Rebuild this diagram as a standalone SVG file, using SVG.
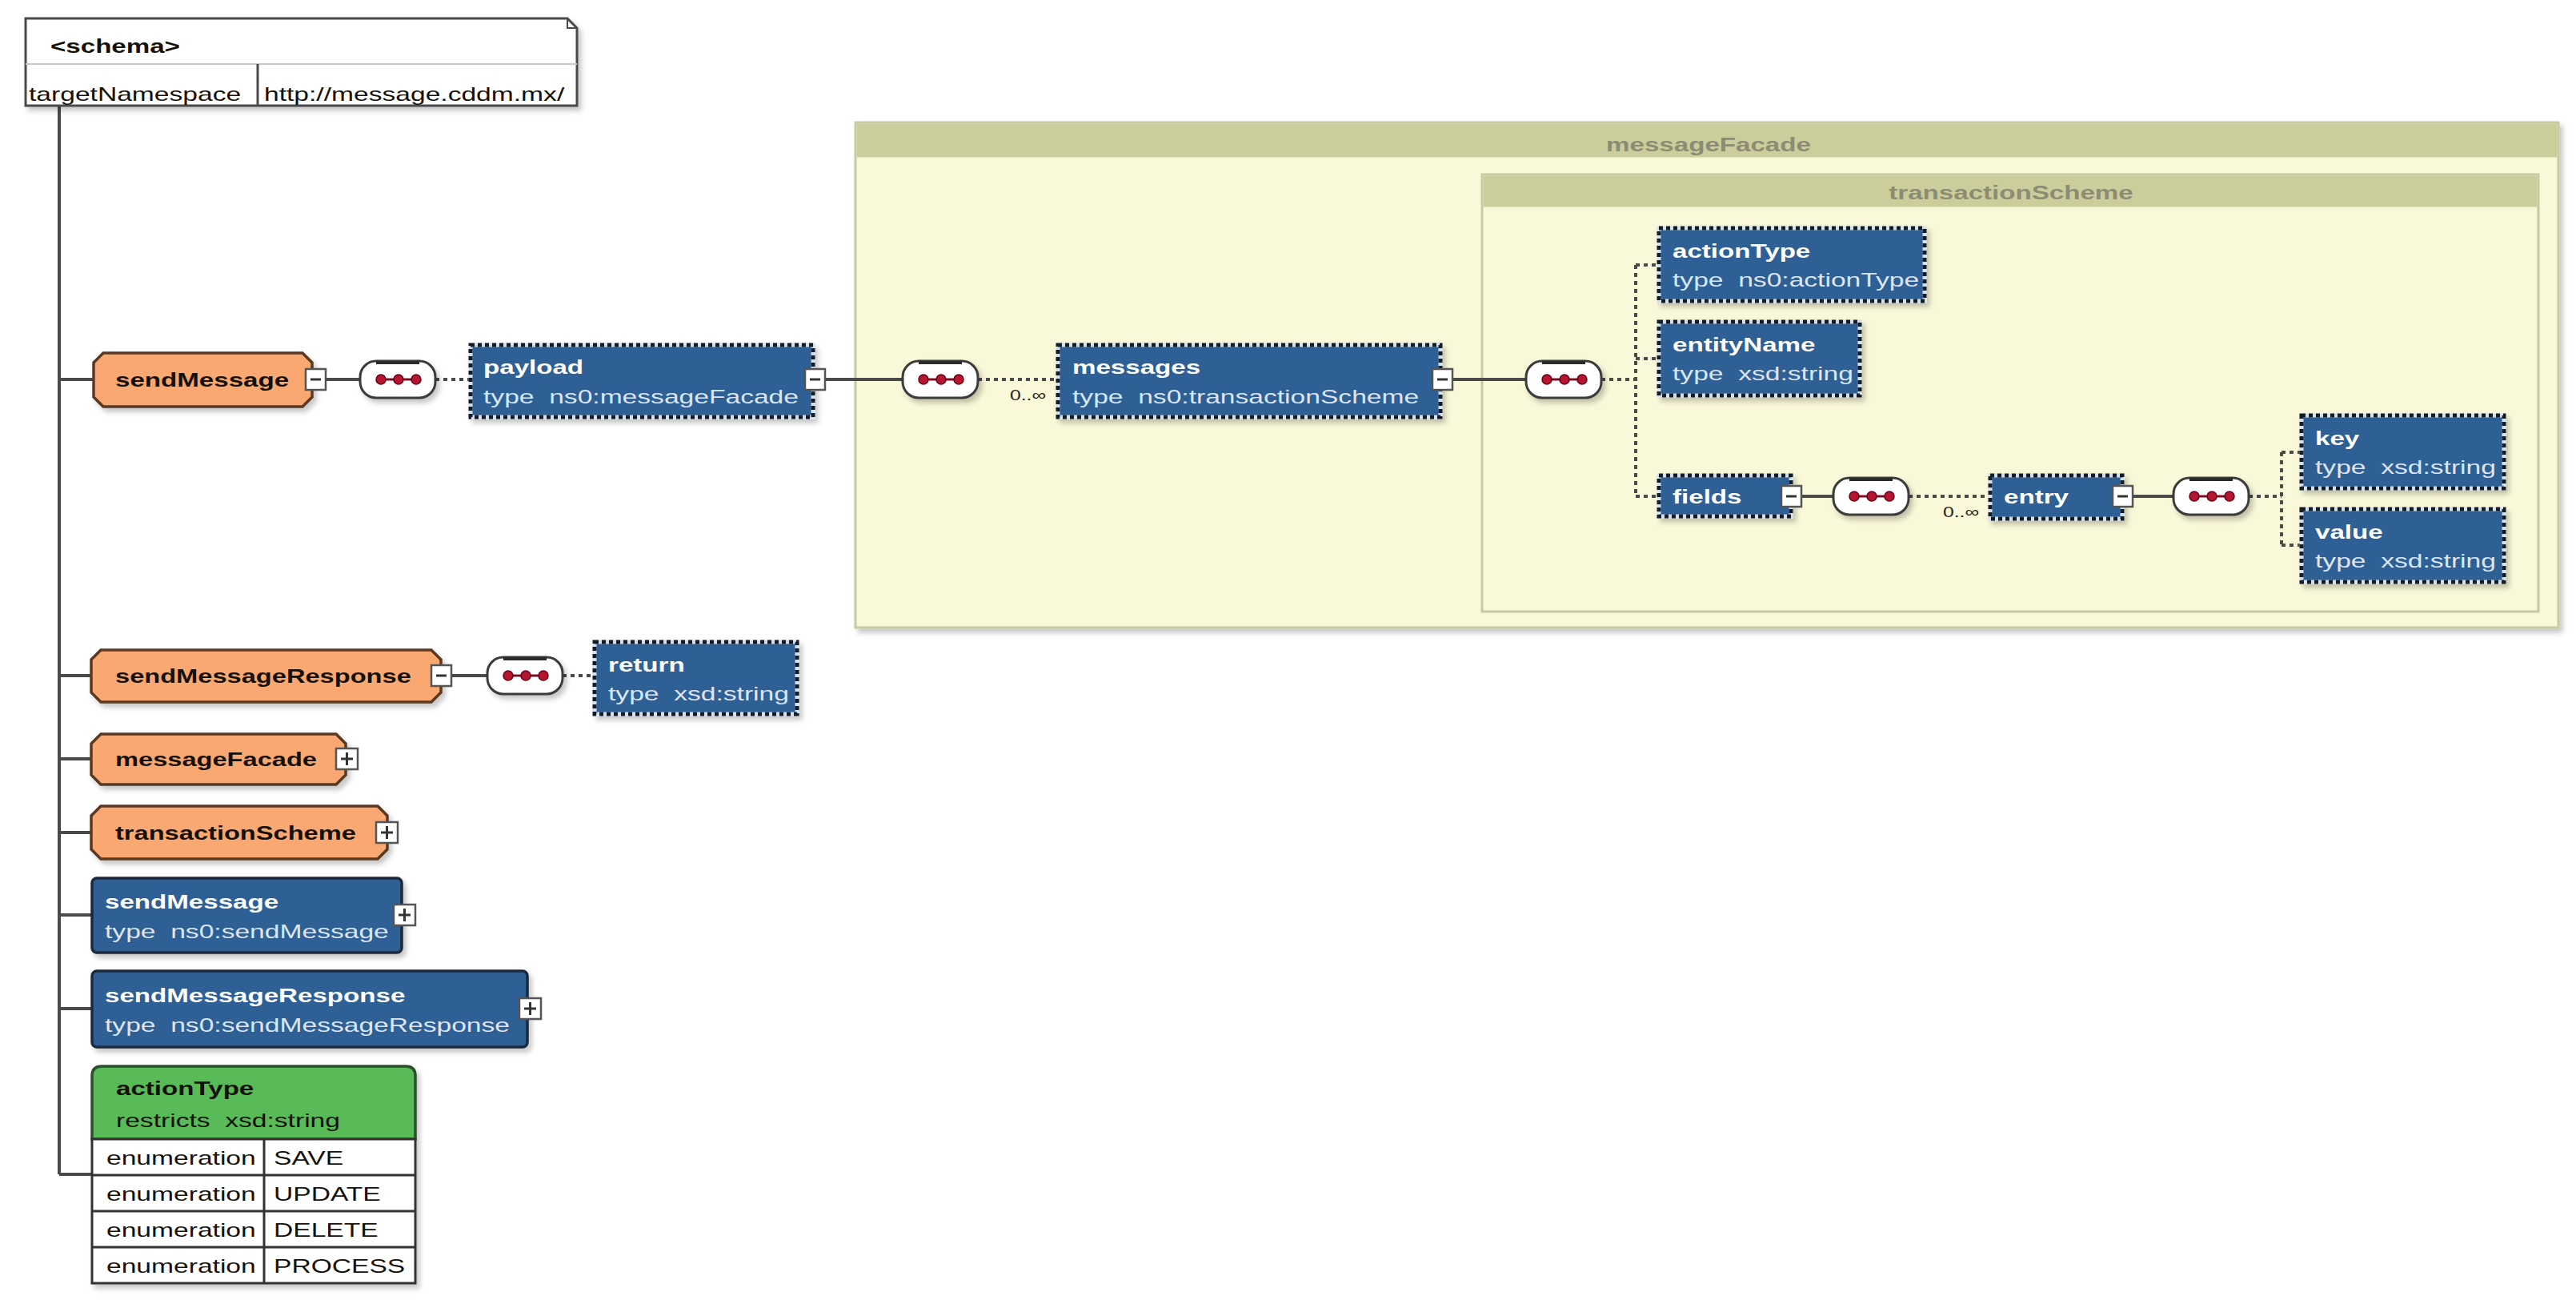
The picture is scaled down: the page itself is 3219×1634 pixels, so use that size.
<svg xmlns="http://www.w3.org/2000/svg" width="3219" height="1634" viewBox="0 0 3219 1634">
<style>
.t{font-family:"Liberation Sans",Arial,Helvetica,sans-serif;font-size:24px}
.b{font-weight:bold}
.k{fill:#151008}
.w{fill:#ffffff}
.wl{fill:#dbe6f2}
.hd{fill:#8c8c74;font-weight:bold}
.ln{stroke:#4a4a4a;stroke-width:4;fill:none}
.dl{stroke:#4a4a4a;stroke-width:4;fill:none;stroke-dasharray:5 5}
.or{fill:#f9a872;stroke:#5a3822;stroke-width:3.5}
.bo{fill:#2f5f95;stroke:#d3e0ee;stroke-width:5}
.bod{fill:none;stroke:#141c28;stroke-width:5;stroke-dasharray:5 4}
.bl{fill:#2f5f95;stroke:#1b2a3e;stroke-width:3.5}
.cont{fill:#f9f8d8;stroke:#c9c9a2;stroke-width:3}
.conth{fill:#cbcd9a}
.lbl{font-family:"Liberation Sans",Arial,sans-serif;font-size:19px;fill:#222}
</style>
<defs>
<filter id="sh" x="-10%" y="-10%" width="130%" height="140%">
<feDropShadow dx="4" dy="5" stdDeviation="3" flood-color="#000" flood-opacity="0.22"/>
</filter>
<g id="seq">
<rect x="0" y="-23" width="94" height="46" rx="20" fill="#fff" stroke="#3a3a3a" stroke-width="3"/>
<line x1="20" y1="-21" x2="74" y2="-21" stroke="#2a2a2a" stroke-width="4"/>
<line x1="26" y1="0" x2="70" y2="0" stroke="#7a1028" stroke-width="3"/>
<circle cx="26" cy="0" r="6" fill="#b3122e" stroke="#6a0016" stroke-width="1.5"/>
<circle cx="48" cy="0" r="6" fill="#b3122e" stroke="#6a0016" stroke-width="1.5"/>
<circle cx="70" cy="0" r="6" fill="#b3122e" stroke="#6a0016" stroke-width="1.5"/>
</g>
<g id="minus">
<rect x="0" y="-13" width="25" height="26" fill="#fff" stroke="#555" stroke-width="2.5"/>
<line x1="6" y1="0" x2="19" y2="0" stroke="#333" stroke-width="3"/>
</g>
<g id="plus">
<rect x="0" y="-13" width="27" height="26" fill="#fff" stroke="#555" stroke-width="2.5"/>
<line x1="6" y1="0" x2="21" y2="0" stroke="#333" stroke-width="3"/>
<line x1="13.5" y1="-8" x2="13.5" y2="8" stroke="#333" stroke-width="3"/>
</g>
</defs>
<rect width="3219" height="1634" fill="#ffffff"/>

<!-- containers -->
<g id="messageFacadeGroup">
<rect class="cont" x="1069" y="153" width="2128" height="631" filter="url(#sh)"/>
<rect class="conth" x="1070.5" y="154.5" width="2125" height="42"/>
<text class="t hd" text-anchor="middle" transform="translate(2135 189) scale(1.38 1)">messageFacade</text>
</g>
<g id="transactionSchemeGroup">
<rect class="cont" x="1852" y="218" width="1320" height="546"/>
<rect class="conth" x="1853.5" y="219.5" width="1317" height="39"/>
<text class="t hd" text-anchor="middle" transform="translate(2513 249) scale(1.38 1)">transactionScheme</text>
</g>

<g id="connectors">
<path class="ln" d="M74,132 V1467"/>
<path class="ln" d="M74,474 H117 M74,844 H114 M74,948 H114 M74,1040 H114 M74,1143 H115 M74,1260 H115 M74,1467 H115"/>
<path class="ln" d="M407,474 H450"/>
<path class="dl" d="M544,474 H588"/>
<path class="ln" d="M1031,474 H1128"/>
<path class="dl" d="M1222,474 H1322"/>
<path class="ln" d="M1815,474 H1907"/>
<path class="dl" d="M2001,474 H2044 M2044,331 V620 M2044,331 H2073 M2044,448 H2073 M2044,620 H2073"/>
<path class="ln" d="M2251,620 H2291"/>
<path class="dl" d="M2385,620 H2487"/>
<path class="ln" d="M2665,620 H2716"/>
<path class="dl" d="M2810,620 H2851 M2851,565 V681 M2851,565 H2876 M2851,681 H2876"/>
<path class="ln" d="M564,844 H609"/>
<path class="dl" d="M703,844 H743"/>
<text class="lbl" transform="translate(1262 500) scale(1.3 1)">0..∞</text>
<text class="lbl" transform="translate(2428 646) scale(1.3 1)">0..∞</text>
</g>

<g id="schema">
<path d="M32,23 H709 L721,35 V132 H32 Z" fill="#fff" stroke="#4a4a4a" stroke-width="3" filter="url(#sh)"/>
<path d="M709,23 V35 H721" fill="none" stroke="#4a4a4a" stroke-width="2"/>
<line x1="32" y1="80" x2="721" y2="80" stroke="#c8c8c8" stroke-width="2"/>
<line x1="322" y1="80" x2="322" y2="132" stroke="#4a4a4a" stroke-width="3"/>
<text class="t b k" transform="translate(63 66) scale(1.38 1)">&lt;schema&gt;</text>
<text class="t k" transform="translate(36 126) scale(1.4 1)">targetNamespace</text>
<text class="t k" transform="translate(330 126) scale(1.4 1)">http://message.cddm.mx/</text>
</g>

<g id="sendMessage">
<path class="or" d="M129,441 H378 L390,453 V496 L378,508 H129 L117,496 V453 Z" filter="url(#sh)"/>
<text class="t b k" transform="translate(144 483) scale(1.38 1)">sendMessage</text>
<use href="#minus" x="382" y="474"/>
</g>
<g id="seq1"><use href="#seq" x="450" y="474" filter="url(#sh)"/></g>
<g id="payload">
<rect class="bo" x="588" y="431" width="428" height="90" filter="url(#sh)"/>
<rect class="bod" x="588" y="431" width="428" height="90"/>
<text class="t b w" transform="translate(604 467) scale(1.38 1)">payload</text>
<text class="t wl" xml:space="preserve" transform="translate(604 504) scale(1.4 1)">type  ns0:messageFacade</text>
<use href="#minus" x="1006" y="474"/>
</g>
<g id="seq2"><use href="#seq" x="1128" y="474" filter="url(#sh)"/></g>
<g id="messages">
<rect class="bo" x="1322" y="431" width="478" height="90" filter="url(#sh)"/>
<rect class="bod" x="1322" y="431" width="478" height="90"/>
<text class="t b w" transform="translate(1340 467) scale(1.38 1)">messages</text>
<text class="t wl" xml:space="preserve" transform="translate(1340 504) scale(1.4 1)">type  ns0:transactionScheme</text>
<use href="#minus" x="1790" y="474"/>
</g>
<g id="seq3"><use href="#seq" x="1907" y="474" filter="url(#sh)"/></g>
<g id="actionTypeEl">
<rect class="bo" x="2073" y="285" width="332" height="91" filter="url(#sh)"/>
<rect class="bod" x="2073" y="285" width="332" height="91"/>
<text class="t b w" transform="translate(2090 322) scale(1.38 1)">actionType</text>
<text class="t wl" xml:space="preserve" transform="translate(2090 358) scale(1.4 1)">type  ns0:actionType</text>
</g>
<g id="entityName">
<rect class="bo" x="2073" y="402" width="251" height="92" filter="url(#sh)"/>
<rect class="bod" x="2073" y="402" width="251" height="92"/>
<text class="t b w" transform="translate(2090 439) scale(1.38 1)">entityName</text>
<text class="t wl" xml:space="preserve" transform="translate(2090 475) scale(1.4 1)">type  xsd:string</text>
</g>
<g id="fields">
<rect class="bo" x="2073" y="594" width="165" height="51" filter="url(#sh)"/>
<rect class="bod" x="2073" y="594" width="165" height="51"/>
<text class="t b w" transform="translate(2090 629) scale(1.38 1)">fields</text>
<use href="#minus" x="2226" y="620"/>
</g>
<g id="seq4"><use href="#seq" x="2291" y="620" filter="url(#sh)"/></g>
<g id="entry">
<rect class="bo" x="2487" y="594" width="165" height="54" filter="url(#sh)"/>
<rect class="bod" x="2487" y="594" width="165" height="54"/>
<text class="t b w" transform="translate(2504 629) scale(1.38 1)">entry</text>
<use href="#minus" x="2640" y="620"/>
</g>
<g id="seq5"><use href="#seq" x="2716" y="620" filter="url(#sh)"/></g>
<g id="key">
<rect class="bo" x="2876" y="519" width="253" height="91" filter="url(#sh)"/>
<rect class="bod" x="2876" y="519" width="253" height="91"/>
<text class="t b w" transform="translate(2893 556) scale(1.38 1)">key</text>
<text class="t wl" xml:space="preserve" transform="translate(2893 592) scale(1.4 1)">type  xsd:string</text>
</g>
<g id="value">
<rect class="bo" x="2876" y="636" width="253" height="91" filter="url(#sh)"/>
<rect class="bod" x="2876" y="636" width="253" height="91"/>
<text class="t b w" transform="translate(2893 673) scale(1.38 1)">value</text>
<text class="t wl" xml:space="preserve" transform="translate(2893 709) scale(1.4 1)">type  xsd:string</text>
</g>

<g id="sendMessageResponse">
<path class="or" d="M126,812 H539 L551,824 V865 L539,877 H126 L114,865 V824 Z" filter="url(#sh)"/>
<text class="t b k" transform="translate(144 853) scale(1.36 1)">sendMessageResponse</text>
<use href="#minus" x="539" y="844"/>
</g>
<g id="seq6"><use href="#seq" x="609" y="844" filter="url(#sh)"/></g>
<g id="return">
<rect class="bo" x="743" y="802" width="253" height="90" filter="url(#sh)"/>
<rect class="bod" x="743" y="802" width="253" height="90"/>
<text class="t b w" transform="translate(760 839) scale(1.38 1)">return</text>
<text class="t wl" xml:space="preserve" transform="translate(760 875) scale(1.4 1)">type  xsd:string</text>
</g>

<g id="messageFacadeType">
<path class="or" d="M126,917 H420 L432,929 V968 L420,980 H126 L114,968 V929 Z" filter="url(#sh)"/>
<text class="t b k" transform="translate(144 957) scale(1.36 1)">messageFacade</text>
<use href="#plus" x="420" y="948"/>
</g>
<g id="transactionSchemeType">
<path class="or" d="M126,1007 H472 L484,1019 V1061 L472,1073 H126 L114,1061 V1019 Z" filter="url(#sh)"/>
<text class="t b k" transform="translate(144 1049) scale(1.36 1)">transactionScheme</text>
<use href="#plus" x="470" y="1040"/>
</g>
<g id="sendMessageElement">
<rect class="bl" x="115" y="1097" width="387" height="93" rx="6" filter="url(#sh)"/>
<text class="t b w" transform="translate(131 1135) scale(1.38 1)">sendMessage</text>
<text class="t wl" xml:space="preserve" transform="translate(131 1172) scale(1.4 1)">type  ns0:sendMessage</text>
<use href="#plus" x="492" y="1143"/>
</g>
<g id="sendMessageResponseElement">
<rect class="bl" x="115" y="1213" width="544" height="95" rx="6" filter="url(#sh)"/>
<text class="t b w" transform="translate(131 1252) scale(1.38 1)">sendMessageResponse</text>
<text class="t wl" xml:space="preserve" transform="translate(131 1289) scale(1.4 1)">type  ns0:sendMessageResponse</text>
<use href="#plus" x="649" y="1260"/>
</g>
<g id="actionTypeSimple">
<g filter="url(#sh)">
<path d="M127,1332 H507 Q519,1332 519,1344 V1423 H115 V1344 Q115,1332 127,1332 Z" fill="#58bb58" stroke="#2f4f2f" stroke-width="3.5"/>
<rect x="115" y="1423" width="404" height="180" fill="#fff" stroke="#333" stroke-width="3"/>
</g>
<path d="M115,1468 H519 M115,1513 H519 M115,1558 H519 M330,1423 V1603" stroke="#333" stroke-width="3" fill="none"/>
<text class="t b k" transform="translate(145 1368) scale(1.38 1)">actionType</text>
<text class="t k" xml:space="preserve" transform="translate(145 1408) scale(1.4 1)">restricts  xsd:string</text>
<text class="t k" transform="translate(133 1455) scale(1.4 1)">enumeration</text>
<text class="t k" transform="translate(342 1455) scale(1.4 1)">SAVE</text>
<text class="t k" transform="translate(133 1500) scale(1.4 1)">enumeration</text>
<text class="t k" transform="translate(342 1500) scale(1.4 1)">UPDATE</text>
<text class="t k" transform="translate(133 1545) scale(1.4 1)">enumeration</text>
<text class="t k" transform="translate(342 1545) scale(1.4 1)">DELETE</text>
<text class="t k" transform="translate(133 1590) scale(1.4 1)">enumeration</text>
<text class="t k" transform="translate(342 1590) scale(1.4 1)">PROCESS</text>
</g>
</svg>
